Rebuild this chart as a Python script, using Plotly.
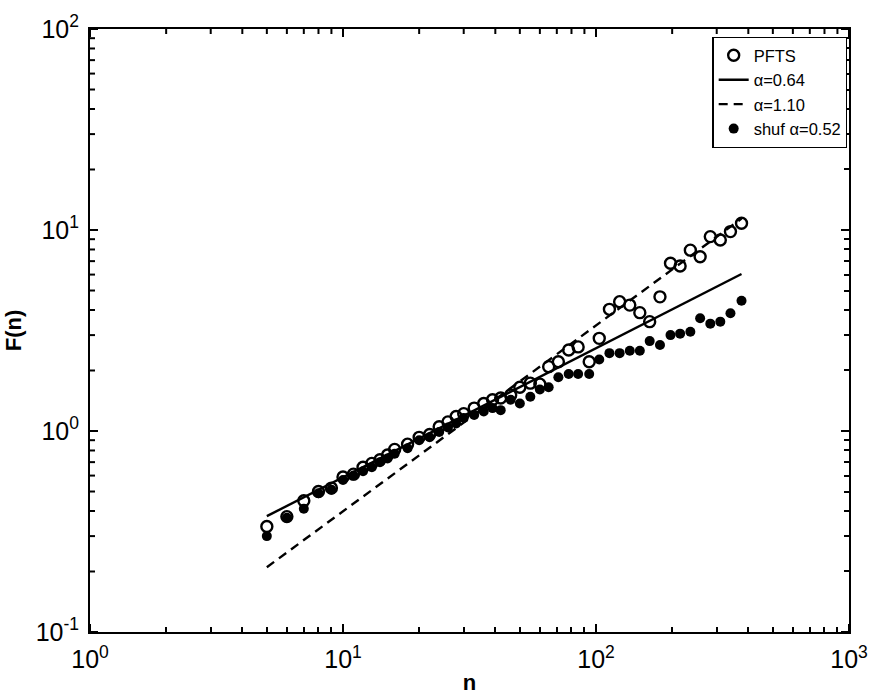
import plotly.graph_objects as go

n = [5, 6, 7, 8, 9, 10, 11, 12, 13, 14, 15, 16, 18, 20, 22, 24, 26, 28, 30, 33, 36, 39, 42, 46,
     50, 55, 60, 65, 71, 78, 85, 94, 103, 113, 124, 136, 149, 163, 179, 197, 215, 236, 258,
     283, 310, 340, 376]

pfts = [0.335, 0.375, 0.45, 0.50, 0.52, 0.59, 0.61, 0.66, 0.69, 0.72, 0.76, 0.81, 0.86, 0.93,
        0.96, 1.05, 1.11, 1.18, 1.22, 1.30, 1.37, 1.43, 1.46, 1.51, 1.65, 1.73, 1.71, 2.09,
        2.21, 2.53, 2.62, 2.21, 2.89, 4.03, 4.40, 4.23, 3.88, 3.50, 4.65, 6.83, 6.62, 7.94,
        7.36, 9.27, 8.92, 9.82, 10.8]

shuf = [0.30, 0.37, 0.41, 0.49, 0.51, 0.57, 0.60, 0.63, 0.66, 0.70, 0.73, 0.77, 0.82, 0.90,
        0.93, 0.99, 1.04, 1.09, 1.16, 1.20, 1.25, 1.30, 1.27, 1.43, 1.37, 1.48, 1.61, 1.65,
        1.85, 1.92, 1.92, 1.92, 2.27, 2.44, 2.44, 2.51, 2.51, 2.80, 2.68, 3.00, 3.05, 3.12,
        3.64, 3.42, 3.50, 3.85, 4.45]

fit064_n = [5, 376]
fit064_F = [0.377, 6.04]
fit110_n = [5, 376]
fit110_F = [0.21, 11.4]

x_major = [1, 10, 100, 1000]
x_major_text = ["10<sup>0</sup>", "10<sup>1</sup>", "10<sup>2</sup>", "10<sup>3</sup>"]
y_major = [0.1, 1, 10, 100]
y_major_text = ["10<sup>-1</sup>", "10<sup>0</sup>", "10<sup>1</sup>", "10<sup>2</sup>"]

x_minor = [m * d for d in (1, 10, 100) for m in range(2, 10)]
y_minor = [round(m * d, 4) for d in (0.1, 1, 10) for m in range(2, 10)]

X_RANGE = [0, 3]
Y_RANGE = [-1, 2]
MAJOR_LEN, MINOR_LEN, TICK_W = 8, 5, 2

FONT = "Liberation Sans, Arial, sans-serif"

fig = go.Figure()
fig.add_trace(go.Scatter(x=n, y=pfts, mode="markers", name="PFTS",
                         marker=dict(symbol="circle-open", size=11, color="black",
                                     line=dict(width=2.4, color="black"))))
fig.add_trace(go.Scatter(x=fit064_n, y=fit064_F, mode="lines", name="α=0.64",
                         line=dict(color="black", width=2.4)))
fig.add_trace(go.Scatter(x=fit110_n, y=fit110_F, mode="lines", name="α=1.10",
                         line=dict(color="black", width=2.4, dash="9px,6px")))
fig.add_trace(go.Scatter(x=n, y=shuf, mode="markers", name="shuf α=0.52",
                         marker=dict(symbol="circle", size=10, color="black")))

# empty helper trace so that the tick-only overlay axes are drawn
fig.add_trace(go.Scatter(x=[None], y=[None], xaxis="x2", yaxis="y2", showlegend=False,
                         hoverinfo="skip", mode="markers"))


def tick_axis(major, minor, rng, **kw):
    d = dict(type="log", range=rng, showgrid=False, zeroline=False, showline=False,
             ticks="outside", tickmode="array", tickvals=major, automargin=False,
             ticklen=MAJOR_LEN, tickwidth=TICK_W, tickcolor="black", showticklabels=False,
             minor=dict(tickmode="array", tickvals=minor, ticks="outside",
                        ticklen=MINOR_LEN, tickwidth=TICK_W, tickcolor="black",
                        showgrid=False))
    d.update(kw)
    return d


main_common = dict(type="log", showgrid=False, zeroline=False, showline=True,
                   linecolor="black", linewidth=2, mirror=True, ticks="",
                   tickmode="array", automargin=False, ticklabelstandoff=4,
                   tickfont=dict(family=FONT, size=25, color="black"))

# tick marks on the top edge (pointing down) and left edge (pointing right)
shapes = []
for v in x_major + x_minor:
    ln = MAJOR_LEN if v in x_major else MINOR_LEN
    shapes.append(dict(type="line", xref="x", yref="paper", ysizemode="pixel", yanchor=1,
                       x0=v, x1=v, y0=0, y1=-ln,
                       line=dict(color="black", width=TICK_W)))
for v in y_major + y_minor:
    ln = MAJOR_LEN if v in y_major else MINOR_LEN
    shapes.append(dict(type="line", xref="paper", yref="y", xsizemode="pixel", xanchor=0,
                       y0=v, y1=v, x0=0, x1=ln,
                       line=dict(color="black", width=TICK_W)))

fig.update_layout(
    width=869, height=695,
    margin=dict(l=90, r=20, t=29, b=63),
    plot_bgcolor="white", paper_bgcolor="white",
    font=dict(family=FONT, color="black"),
    showlegend=True,
    shapes=shapes,
    xaxis=dict(range=X_RANGE, tickvals=x_major, ticktext=x_major_text,
               title=dict(text="<b>n</b>", font=dict(family=FONT, size=22, color="black"),
                          standoff=8),
               **main_common),
    yaxis=dict(range=Y_RANGE, tickvals=y_major, ticktext=y_major_text,
               title=dict(text="<b>F(n)</b>", font=dict(family=FONT, size=22, color="black"),
                          standoff=8),
               **main_common),
    # ticks pointing into the plot from the bottom edge and from the right edge
    xaxis2=tick_axis(x_major, x_minor, X_RANGE, overlaying="x", anchor="free",
                     position=0, side="top"),
    yaxis2=tick_axis(y_major, y_minor, Y_RANGE, overlaying="y", anchor="free",
                     position=1, side="left"),
    legend=dict(x=0.998, y=0.987, xanchor="right", yanchor="top",
                bgcolor="white", bordercolor="black", borderwidth=1.2,
                font=dict(family=FONT, size=16.5, color="black"),
                tracegroupgap=0, itemwidth=30),
)

fig.write_html("out.html")
